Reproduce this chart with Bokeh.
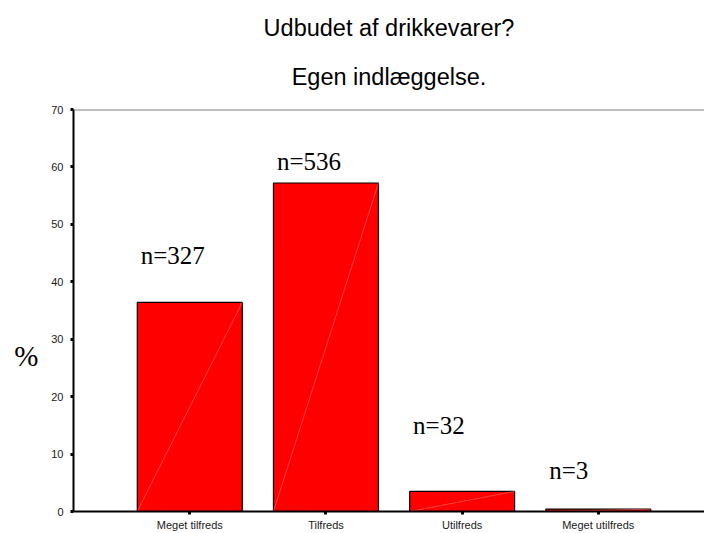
from bokeh.plotting import figure
from bokeh.models import Label, Span, FixedTicker, Range1d, LinearAxis, Title
from bokeh.embed import file_html
from bokeh.resources import INLINE

# ---- data ----
categories = ["Meget tilfreds", "Tilfreds", "Utilfreds", "Meget utilfreds"]
percent = [36.4, 57.2, 3.5, 0.4]
counts = [327, 536, 32, 3]
label_heights = [44.5, 61.0, 14.9, 7.1]
y_ticks = [0, 10, 20, 30, 40, 50, 60, 70]
title_lines = ["Udbudet af drikkevarer?", "Egen indlæggelse."]
y_label = "%"
y_label_at = 27.0

xs = list(range(1, len(categories) + 1))
bw = 0.771

p = figure(width=704, height=533,
           x_range=Range1d(0.146, 4.78), y_range=Range1d(0, 70),
           output_backend="svg", toolbar_location=None,
           min_border_left=73, min_border_right=0,
           min_border_top=109, min_border_bottom=20)
p.outline_line_color = None
p.grid.visible = False
p.background_fill_color = "white"
p.border_fill_color = "white"

p.vbar(x=xs, top=percent, width=bw, bottom=0,
       fill_color="#ff0000", line_color="black", line_width=1.2)
p.segment(x0=[x - bw / 2 for x in xs], y0=[0] * len(xs),
          x1=[x + bw / 2 for x in xs], y1=percent,
          line_color="#ff7070", line_width=0.6)

p.add_layout(Span(location=y_ticks[-1], dimension="width",
                  line_color="#808080", line_width=2))

# axes
for ax in (p.xaxis[0], p.yaxis[0]):
    ax.axis_line_color = "black"
    ax.axis_line_width = 2
    ax.major_tick_line_color = "black"
    ax.major_tick_line_width = 3
    ax.major_tick_out = 3
    ax.major_tick_in = 0
    ax.minor_tick_line_color = None
    ax.major_label_text_font = "Liberation Sans"
    ax.major_label_text_font_size = "11px"
    ax.major_label_text_color = "#1a1a1a"

p.xaxis.ticker = FixedTicker(ticks=xs)
p.xaxis.major_label_overrides = {x: c for x, c in zip(xs, categories)}
p.xaxis.major_label_standoff = 4

p.yaxis.ticker = FixedTicker(ticks=y_ticks)
p.yaxis.major_label_standoff = 7

# "%" as a horizontal label on an extra left axis
pct_axis = LinearAxis(ticker=FixedTicker(ticks=[y_label_at]),
                      major_label_overrides={y_label_at: y_label},
                      axis_line_color=None, major_tick_line_color=None,
                      minor_tick_line_color=None,
                      major_label_text_font="Liberation Serif",
                      major_label_text_font_size="29px",
                      major_label_text_color="black",
                      major_label_standoff=4)
p.add_layout(pct_axis, "left")

# n labels
for x, h, n in zip(xs, label_heights, counts):
    p.add_layout(Label(x=x - 0.36, y=h, text=f"n={n}",
                       text_font="Liberation Serif", text_font_size="25px",
                       text_color="black", text_align="left",
                       text_baseline="alphabetic"))

# titles (first added sits closest to the plot)
p.add_layout(Title(text=title_lines[1], align="center",
                   text_font="Liberation Sans", text_font_size="23.5px",
                   text_font_style="normal", text_color="black",
                   standoff=40, offset=2), "above")
p.add_layout(Title(text=title_lines[0], align="center",
                   text_font="Liberation Sans", text_font_size="23.5px",
                   text_font_style="normal", text_color="black",
                   standoff=2, offset=2), "above")

open("out.html", "w").write(file_html(p, INLINE))
